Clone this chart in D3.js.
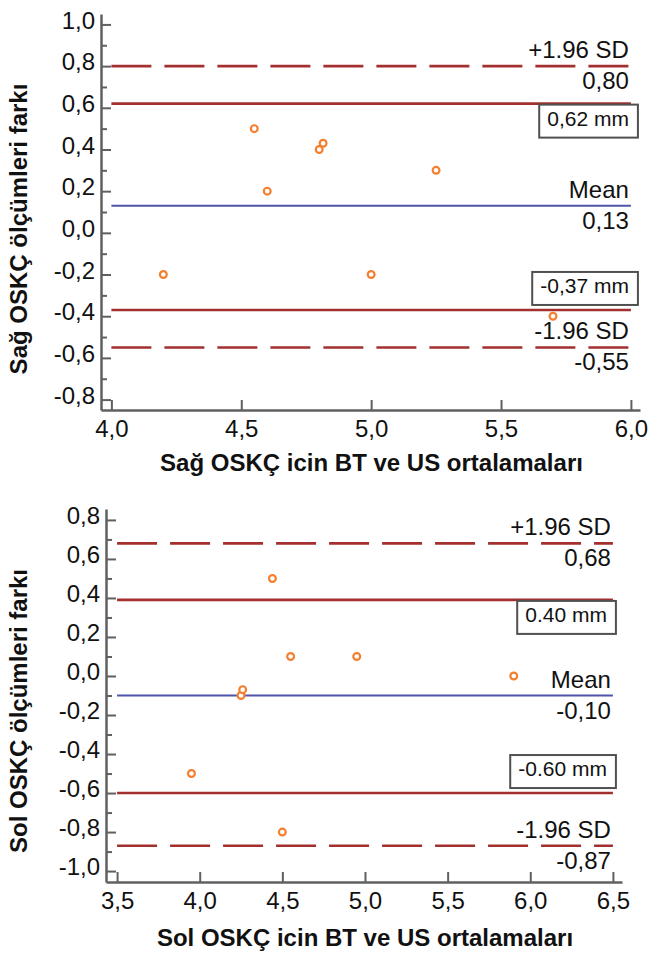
<!DOCTYPE html>
<html>
<head>
<meta charset="utf-8">
<script src="https://cdn.jsdelivr.net/npm/d3@7"></script>
<style>
  body { margin: 0; background: #fff; }
  svg { display: block; font-family: "Liberation Sans", Arial, Helvetica, sans-serif; }
</style>
</head>
<body>
<script>
// Top panel (Sağ) data
const sagX = [4.2, 4.55, 4.6, 4.8, 4.815, 5.0, 5.25, 5.7];
const sagY = [-0.2, 0.5, 0.2, 0.4, 0.43, -0.2, 0.3, -0.4];
const sagLimits = { upperSD: 0.80, upper: 0.62, mean: 0.13, lower: -0.37, lowerSD: -0.55 };
const sagLabels = { upperSD: "0,80", upper: "0,62 mm", mean: "0,13", lower: "-0,37 mm", lowerSD: "-0,55" };
const sagXTicks = [4.0, 4.5, 5.0, 5.5, 6.0];
const sagYTicks = [-0.8, -0.6, -0.4, -0.2, 0.0, 0.2, 0.4, 0.6, 0.8, 1.0];
const sagYMinor = [-0.7, -0.5, -0.3, -0.1, 0.1, 0.3, 0.5, 0.7, 0.9];

// Bottom panel (Sol) data
const solX = [3.95, 4.25, 4.26, 4.44, 4.5, 4.55, 4.95, 5.9];
const solY = [-0.5, -0.1, -0.07, 0.5, -0.8, 0.1, 0.1, 0.0];
const solLimits = { upperSD: 0.68, upper: 0.39, mean: -0.10, lower: -0.60, lowerSD: -0.87 };
const solLabels = { upperSD: "0,68", upper: "0.40 mm", mean: "-0,10", lower: "-0.60 mm", lowerSD: "-0,87" };
const solXTicks = [3.5, 4.0, 4.5, 5.0, 5.5, 6.0, 6.5];
const solYTicks = [-1.0, -0.8, -0.6, -0.4, -0.2, 0.0, 0.2, 0.4, 0.6, 0.8];
const solYMinor = [-0.9, -0.7, -0.5, -0.3, -0.1, 0.1, 0.3, 0.5, 0.7];

const red = "#a3302f";
const blue = "#4f55ab";
const orange = "#f47f2e";
const axisGray = "#606060";

const fmt = v => d3.format(".1f")(v).replace(".", ",").replace("\u2212", "-");

const svg = d3.select("body").append("svg")
    .attr("width", 648)
    .attr("height", 954);

function drawPanel(p) {
    const x = d3.scaleLinear().domain(p.xDomain).range(p.xRange);
    const y = d3.scaleLinear().domain(p.yDomain).range(p.yRange);
    const g = svg.append("g");

    // axes, ticks pointing inward
    const xAxis = g.append("g")
        .attr("transform", `translate(0,${p.yRange[0]})`)
        .call(d3.axisBottom(x).tickValues(p.xTicks).tickFormat(fmt)
            .tickSizeInner(-10).tickSizeOuter(0).tickPadding(10));
    const yAxis = g.append("g")
        .attr("transform", `translate(${p.xRange[0]},0)`)
        .call(d3.axisLeft(y).tickValues(p.yTicks).tickFormat(fmt)
            .tickSizeInner(-10).tickSizeOuter(0).tickPadding(6));
    g.append("g")
        .attr("transform", `translate(${p.xRange[0]},0)`)
        .call(d3.axisLeft(y).tickValues(p.yMinor).tickFormat("")
            .tickSizeInner(-6).tickSizeOuter(0))
        .select(".domain").remove();

    g.selectAll(".domain").attr("stroke", axisGray).attr("stroke-width", 2.5);
    g.selectAll(".tick line").attr("stroke", axisGray).attr("stroke-width", 2);
    g.selectAll(".tick text").attr("fill", "#111").style("font-size", "24px").attr("font-family", null);
    yAxis.selectAll(".tick text").attr("dy", "0.15em");
    xAxis.selectAll(".tick text").attr("dy", "0.71em");

    // limit lines
    const x0 = x(p.xTicks[0]), x1 = x(p.xTicks[p.xTicks.length - 1]);
    const lines = [
        { v: p.limits.upperSD, c: red, dash: "40,13", w: 2.6 },
        { v: p.limits.upper, c: red, dash: null, w: 2.6 },
        { v: p.limits.mean, c: blue, dash: null, w: 2.2 },
        { v: p.limits.lower, c: red, dash: null, w: 2.6 },
        { v: p.limits.lowerSD, c: red, dash: "40,13", w: 2.6 }
    ];
    g.selectAll(".lim").data(lines).join("line")
        .attr("x1", x0).attr("x2", x1)
        .attr("y1", d => y(d.v)).attr("y2", d => y(d.v))
        .attr("stroke", d => d.c)
        .attr("stroke-width", d => d.w)
        .attr("stroke-dasharray", d => d.dash);

    // labels beside the lines
    const tx = x1 - 2;
    const texts = [
        { t: "+1.96 SD", y: y(p.limits.upperSD) - 8 },
        { t: p.labels.upperSD, y: y(p.limits.upperSD) + 23 },
        { t: "Mean", y: y(p.limits.mean) - 8 },
        { t: p.labels.mean, y: y(p.limits.mean) + 23 },
        { t: "-1.96 SD", y: y(p.limits.lowerSD) - 8 },
        { t: p.labels.lowerSD, y: y(p.limits.lowerSD) + 23 }
    ];
    g.selectAll(".lbl").data(texts).join("text")
        .attr("x", tx).attr("y", d => d.y)
        .attr("text-anchor", "end")
        .style("font-size", "24px")
        .attr("fill", "#111")
        .text(d => d.t);

    // boxed mm labels
    const boxes = [
        { t: p.labels.upper, y: y(p.limits.upper) + 22 },
        { t: p.labels.lower, y: y(p.limits.lower) - 17 }
    ];
    boxes.forEach(b => {
        const txt = g.append("text")
            .attr("x", tx + p.boxShift).attr("y", b.y)
            .attr("text-anchor", "end")
            .style("font-size", "21px")
            .attr("fill", "#111")
            .text(b.t);
        const bb = txt.node().getBBox();
        g.insert("rect", () => txt.node())
            .attr("x", bb.x - 8).attr("y", b.y - 21)
            .attr("width", bb.width + 17).attr("height", 33)
            .attr("fill", "#fff")
            .attr("stroke", "#505050")
            .attr("stroke-width", 2);
    });

    // points
    g.selectAll(".pt").data(p.xs.map((d, i) => [d, p.ys[i]])).join("circle")
        .attr("cx", d => x(d[0]))
        .attr("cy", d => y(d[1]))
        .attr("r", 3.4)
        .attr("fill", "#fff")
        .attr("stroke", orange)
        .attr("stroke-width", 2.2);

    // axis titles
    g.append("text")
        .attr("x", (p.xRange[0] + p.xRange[1]) / 2 + 1)
        .attr("y", p.xTitleY)
        .attr("text-anchor", "middle")
        .style("font-size", "24px")
        .style("font-weight", "bold")
        .attr("fill", "#111")
        .text(p.xTitle);
    g.append("text")
        .attr("transform", `translate(27,${p.yTitleMid}) rotate(-90)`)
        .attr("text-anchor", "middle")
        .style("font-size", "24px")
        .style("font-weight", "bold")
        .attr("fill", "#111")
        .text(p.yTitle);
}

drawPanel({
    xs: sagX, ys: sagY, limits: sagLimits, labels: sagLabels,
    xTicks: sagXTicks, yTicks: sagYTicks, yMinor: sagYMinor,
    xDomain: [3.96, 6.035], xRange: [101, 640],
    yDomain: [-0.85, 1.05], yRange: [410, 14], boxShift: 0,
    xTitle: "Sağ OSKÇ icin BT ve US ortalamaları", xTitleY: 471,
    yTitle: "Sağ OSKÇ ölçümleri farkı", yTitleMid: 229
});

drawPanel({
    xs: solX, ys: solY, limits: solLimits, labels: solLabels,
    xTicks: solXTicks, yTicks: solYTicks, yMinor: solYMinor,
    xDomain: [3.433, 6.555], xRange: [106, 622],
    yDomain: [-1.056, 0.856], yRange: [882, 509], boxShift: -4,
    xTitle: "Sol OSKÇ icin BT ve US ortalamaları", xTitleY: 946,
    yTitle: "Sol OSKÇ ölçümleri farkı", yTitleMid: 711
});
</script>
</body>
</html>
